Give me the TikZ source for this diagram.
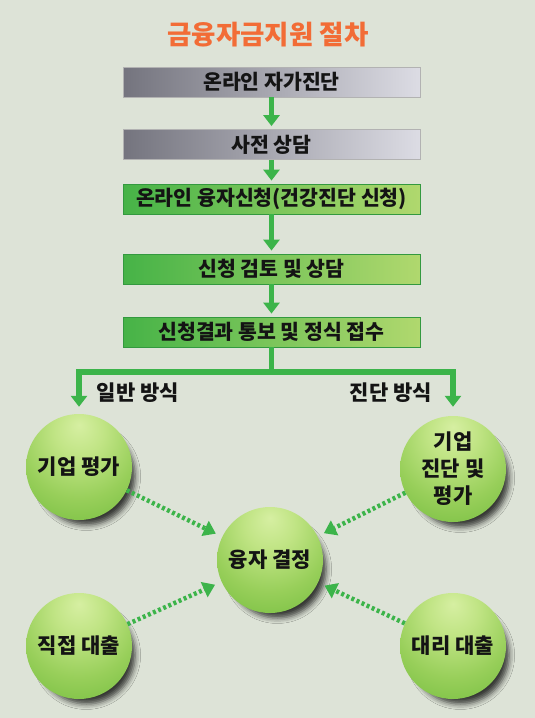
\documentclass[tikz,border=0pt]{standalone}
\usepackage{fontspec}
\setmainfont{Noto Sans CJK KR}
\usetikzlibrary{arrows.meta,shadows.blur}
\definecolor{bgc}{HTML}{DDE3D7}
\definecolor{grayL}{HTML}{74747E}
\definecolor{grayR}{HTML}{DCDCE4}
\definecolor{greenL}{HTML}{46B347}
\definecolor{greenR}{HTML}{B0D86E}
\definecolor{flowc}{HTML}{3CB44A}
\definecolor{titlec}{HTML}{F26C36}
\definecolor{ballA}{HTML}{D6EFA2}
\definecolor{ballB}{HTML}{C0E484}
\definecolor{ballC}{HTML}{98CF5A}
\definecolor{ballD}{HTML}{78BF42}
\definecolor{ballE}{HTML}{62B234}
\definecolor{ballF}{HTML}{55A82F}
\pgfdeclareradialshading{greenball}{\pgfpoint{0bp}{20bp}}{%
  color(0bp)=(ballA); color(12bp)=(ballB); color(28bp)=(ballC);
  color(42bp)=(ballD); color(55bp)=(ballE); color(70bp)=(ballF); color(80bp)=(ballF)}
\tikzset{
  boxtext/.style={font=\fontsize{20.5}{24}\selectfont\bfseries, text=black!92},
  graybox/.style={boxtext, rectangle, minimum width=297pt, minimum height=30pt,
    inner sep=0pt, left color=grayL, right color=grayR, draw=gray!60, line width=0.8pt},
  greenbox/.style={boxtext, rectangle, minimum width=297pt, minimum height=30pt,
    inner sep=0pt, left color=greenL, right color=greenR, draw=flowc!85!black, line width=0.8pt},
  flowline/.style={draw=flowc, line width=5.5pt},
  flow/.style={flowline, -{Triangle[length=11pt,width=16pt]}},
  ball/.style={circle, minimum size=106pt, inner sep=0pt, shading=greenball,
    blur shadow={shadow scale=0.92, shadow xshift=8pt, shadow yshift=-10pt, shadow blur radius=6pt, shadow opacity=75},
    font=\fontsize{21}{27}\selectfont\bfseries, text=black!92, align=center},
  lbl/.style={font=\fontsize{21}{24}\selectfont\bfseries, text=black!92},
  dotarrow/.style={draw=flowc, line width=4.5pt, dash pattern=on 3pt off 2.6pt,
    -{Triangle[length=12pt,width=16pt]}, shorten >=7pt},
  titletext/.style={font=\fontsize{26.5}{30}\selectfont\bfseries, text=titlec}
}
\begin{document}
\begin{tikzpicture}[x=1pt,y=-1pt]
\useasboundingbox (0,0) rectangle (535,718);
\fill[bgc] (0,0) rectangle (535,718);
\node[titletext] (title) at (268,35) {금융자금지원 절차};
\node[graybox] (b1) at (271.5,82) {온라인 자가진단};
\node[graybox] (b2) at (271.5,144.5) {사전 상담};
\node[greenbox] (b3) at (271.5,199) {온라인 융자신청(건강진단 신청)};
\node[greenbox] (b4) at (271.5,269) {신청 검토 및 상담};
\node[greenbox] (b5) at (271.5,332) {신청결과 통보 및 정식 접수};
\draw[flow, shorten >=3pt] (b1) -- (b2);
\draw[flow, shorten >=3pt] (b2) -- (b3);
\draw[flow, shorten >=3pt] (b3) -- (b4);
\draw[flow, shorten >=3pt] (b4) -- (b5);
\node[ball] (A) at (79,467) {기업 평가};
\node[ball] (B) at (453,469) {기업\\진단 및\\평가};
\node[ball] (C) at (270,560) {융자 결정};
\node[ball] (D) at (79,646) {직접 대출};
\node[ball] (E) at (453,646) {대리 대출};
\coordinate (br) at (271.5,372);
\draw[flowline] (b5.south) -- (br);
\draw[flow, shorten >=7pt] (br) -| (A.north);
\draw[flow, shorten >=9pt] (br) -| (B.north);
\node[lbl] (l1) at (138,393) {일반 방식};
\node[lbl] (l2) at (391,393) {진단 방식};
\draw[dotarrow] (A) -- (C);
\draw[dotarrow] (B) -- (C);
\draw[dotarrow] (D) -- (C);
\draw[dotarrow] (E) -- (C);
\end{tikzpicture}
\end{document}
